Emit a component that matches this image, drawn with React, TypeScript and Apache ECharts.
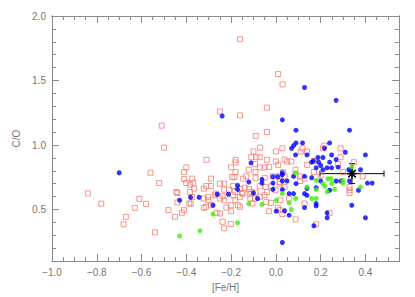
import React, { useEffect, useRef } from "react";
import * as echarts from "echarts";

const xMajor = [-1.0, -0.8, -0.6, -0.4, -0.2, 0.0, 0.2, 0.4];
const xMinor = [-0.95, -0.9, -0.85, -0.75, -0.7, -0.65, -0.55, -0.5, -0.45, -0.35, -0.3, -0.25, -0.15, -0.1, -0.05, 0.05, 0.1, 0.15, 0.25, 0.3, 0.35, 0.45, 0.5];
const yMajor = [0.5, 1.0, 1.5, 2.0];
const yMinor = [0.2, 0.3, 0.4, 0.6, 0.7, 0.8, 0.9, 1.1, 1.2, 1.3, 1.4, 1.6, 1.7, 1.8, 1.9];

// open squares
const squares: number[][] = [
  [-0.16, 1.82], [0.01, 1.55], [0.03, 1.47], [-0.25, 1.26], [-0.16, 1.23], [-0.04, 1.29], [-0.51, 1.15],
  [-0.09, 1.07], [-0.04, 1.1], [-0.5, 0.98], [-0.07, 0.98], [-0.1, 0.95], [0.0, 0.95], [-0.31, 0.885],
  [-0.18, 0.885], [-0.18, 0.865], [-0.11, 0.905], [-0.087, 0.905], [-0.072, 0.905], [-0.04, 0.885],
  [0.0, 0.872], [-0.2, 0.826], [-0.121, 0.808], [-0.093, 0.852], [-0.091, 0.79], [-0.072, 0.826],
  [-0.05, 0.826], [-0.03, 0.83], [-0.18, 0.79], [0.01, 0.846], [-0.4, 0.826], [-0.41, 0.79], [-0.56, 0.785],
  [-0.84, 0.625], [-0.78, 0.545], [-0.68, 0.385], [-0.67, 0.444], [-0.63, 0.513], [-0.61, 0.582],
  [-0.58, 0.544], [-0.521, 0.705], [-0.54, 0.323], [-0.48, 0.495], [-0.45, 0.444], [-0.44, 0.628],
  [-0.44, 0.554], [-0.42, 0.475], [-0.41, 0.495], [-0.41, 0.736], [-0.4, 0.705], [-0.444, 0.636],
  [-0.384, 0.636], [-0.374, 0.597], [-0.387, 0.546], [-0.369, 0.707], [-0.384, 0.692],
  [-0.374, 0.739], [-0.29, 0.739], [-0.195, 0.751], [-0.185, 0.751], [-0.146, 0.739], [-0.132, 0.757],
  [-0.091, 0.746], [-0.05, 0.746], [-0.013, 0.757], [0.014, 0.757], [-0.365, 0.662], [-0.322, 0.662],
  [-0.311, 0.682], [-0.29, 0.682], [-0.25, 0.7], [-0.231, 0.7], [-0.231, 0.654], [-0.209, 0.654],
  [-0.191, 0.682], [-0.181, 0.636], [-0.16, 0.659], [-0.149, 0.628], [-0.139, 0.669], [-0.12, 0.657],
  [-0.109, 0.636], [-0.09, 0.631], [-0.072, 0.68], [-0.045, 0.674], [-0.04, 0.636], [-0.02, 0.68],
  [-0.001, 0.649], [0.017, 0.713], [-0.38, 0.546], [-0.322, 0.585], [-0.322, 0.513], [-0.302, 0.572],
  [-0.29, 0.533], [-0.273, 0.61], [-0.25, 0.585], [-0.238, 0.603], [-0.23, 0.572], [-0.221, 0.515],
  [-0.201, 0.533], [-0.2, 0.487], [-0.191, 0.61], [-0.181, 0.572], [-0.17, 0.533], [-0.161, 0.598],
  [-0.161, 0.521], [-0.151, 0.623], [-0.117, 0.623], [-0.114, 0.585], [-0.105, 0.546], [-0.094, 0.585],
  [-0.072, 0.598], [-0.05, 0.61], [-0.043, 0.559], [-0.031, 0.487], [-0.022, 0.551], [0.009, 0.513],
  [0.02, 0.572], [-0.25, 0.469], [-0.238, 0.405], [-0.201, 0.387], [-0.231, 0.354],
  [0.029, 0.974], [0.119, 0.974], [0.111, 0.949], [0.139, 0.949], [0.217, 0.995], [0.21, 0.974],
  [0.289, 0.974], [0.289, 0.905], [0.039, 0.887], [0.05, 0.872], [0.069, 0.872], [0.14, 0.846],
  [0.17, 0.877], [0.278, 0.851], [0.348, 0.867], [0.088, 0.808], [0.17, 0.79], [0.299, 0.79],
  [0.032, 0.79], [0.039, 0.757], [0.088, 0.769], [0.109, 0.757], [0.128, 0.739], [0.017, 0.7],
  [0.039, 0.674], [0.109, 0.721], [0.329, 0.674], [0.329, 0.649], [0.329, 0.628], [0.059, 0.585],
  [0.128, 0.546], [0.017, 0.495], [0.029, 0.464], [0.088, 0.423], [0.24, 0.474], [0.18, 0.385],
  [0.388, 0.757], [0.2, 0.764], [-0.268, 0.623], [-0.265, 0.474], [-0.303, 0.597], [-0.313, 0.52],
];

// filled blue circles
const blue: number[][] = [
  [-0.7, 0.785], [-0.24, 1.225], [0.128, 1.446], [0.269, 1.346], [0.029, 1.195], [0.09, 1.115],
  [0.329, 1.115], [0.07, 0.974], [0.079, 0.995], [0.09, 1.016], [0.119, 1.016], [0.24, 1.016],
  [0.217, 0.974], [0.249, 0.923], [0.31, 0.944], [0.4, 0.923], [0.088, 0.923], [0.139, 0.923],
  [0.188, 0.903], [0.21, 0.903], [0.269, 0.887], [0.24, 0.867], [0.16, 0.867], [0.191, 0.867],
  [0.168, 0.877], [0.2, 0.841], [0.229, 0.823], [0.249, 0.823], [0.278, 0.828], [0.21, 0.808],
  [0.18, 0.823], [0.029, 0.785], [0.378, 0.808], [0.326, 0.808], [0.029, 0.769], [0.079, 0.757],
  [0.128, 0.757], [0.029, 0.721], [0.05, 0.721], [0.09, 0.7], [0.16, 0.746], [0.2, 0.721],
  [0.269, 0.721], [0.29, 0.721], [0.329, 0.721], [0.139, 0.662], [0.18, 0.669], [0.24, 0.649],
  [0.029, 0.654], [0.059, 0.623], [0.079, 0.623], [0.128, 0.623], [0.139, 0.61], [0.369, 0.649],
  [0.409, 0.705], [0.43, 0.705], [0.039, 0.49], [0.059, 0.456], [0.128, 0.515], [0.18, 0.546],
  [0.18, 0.528], [0.339, 0.533], [0.229, 0.474], [0.229, 0.436], [0.4, 0.436], [0.17, 0.374],
  [0.029, 0.244], [-0.43, 0.572], [-0.381, 0.595], [-0.343, 0.595], [-0.281, 0.533], [-0.262, 0.618],
  [-0.212, 0.618], [-0.171, 0.687], [-0.171, 0.656], [-0.121, 0.713], [-0.111, 0.862], [-0.1, 0.628],
  [-0.082, 0.585], [-0.062, 0.733], [-0.062, 0.705], [-0.013, 0.754], [-0.013, 0.656], [0.002, 0.487],
  [0.009, 0.754], [-0.013, 0.705],
];

// filled green circles
const green: number[][] = [
  [-0.43, 0.295], [-0.339, 0.336], [-0.281, 0.464], [-0.171, 0.398], [-0.121, 0.546], [-0.062, 0.54],
  [0.002, 0.572], [0.029, 0.623], [0.088, 0.585], [0.088, 0.785], [0.18, 0.726], [0.21, 0.7],
  [0.232, 0.739], [0.247, 0.739], [0.299, 0.726], [0.299, 0.705], [0.139, 0.674], [0.18, 0.654],
  [0.229, 0.636], [0.262, 0.657], [0.378, 0.674], [0.16, 0.585], [0.18, 0.585], [0.059, 0.551],
  [0.069, 0.5], [0.34, 0.83], [0.22, 0.68], [0.25, 0.7],
];

// reference star with error bars: [x, y, xErr, yErr]
const refStar = [[0.34, 0.778, 0.143, 0.077]];

const AXIS = "#8a8a8a";
const TEXT = "#777777";
const FONT = "Liberation Sans";

function fmt(v: number) {
  const s = Math.abs(v).toFixed(1);
  return v < -1e-9 ? "\u2212" + s : s;
}

function xAx(pos: string, vals: number[], len: number, labels: boolean, extra: any = {}) {
  return {
    type: "value",
    position: pos,
    min: -1.0,
    max: 0.55,
    axisLine: { show: true, onZero: false, lineStyle: { color: AXIS, width: 1 } },
    axisTick: { show: true, inside: true, length: len, customValues: vals, lineStyle: { color: AXIS, width: 1 } },
    axisLabel: labels
      ? { show: true, customValues: vals, formatter: fmt, color: TEXT, fontSize: 10, fontFamily: FONT, margin: 6 }
      : { show: false },
    splitLine: { show: false },
    ...extra,
  };
}

function yAx(pos: string, vals: number[], len: number, labels: boolean, extra: any = {}) {
  return {
    type: "value",
    position: pos,
    min: 0.1,
    max: 2.0,
    axisLine: { show: true, onZero: false, lineStyle: { color: AXIS, width: 1 } },
    axisTick: { show: true, inside: true, length: len, customValues: vals, lineStyle: { color: AXIS, width: 1 } },
    axisLabel: labels
      ? { show: true, customValues: vals, formatter: fmt, color: TEXT, fontSize: 10, fontFamily: FONT, margin: 6 }
      : { show: false },
    splitLine: { show: false },
    ...extra,
  };
}

export default function App() {
  const ref = useRef<HTMLDivElement>(null);
  useEffect(() => {
    if (!ref.current) return;
    const chart = echarts.init(ref.current, null, { renderer: "svg" });
    chart.setOption({
      animation: false,
      backgroundColor: "#ffffff",
      grid: { left: 52, right: 16, top: 16, bottom: 33, containLabel: false },
      xAxis: [
        xAx("bottom", xMajor, 7, true, {
          name: "[Fe/H]",
          nameLocation: "middle",
          nameGap: 19,
          nameTextStyle: { color: TEXT, fontSize: 10, fontFamily: FONT },
        }),
        xAx("bottom", xMinor, 4, false),
        xAx("top", xMajor, 7, false),
        xAx("top", xMinor, 4, false),
      ],
      yAxis: [
        yAx("left", yMajor, 7, true, {
          name: "C/O",
          nameLocation: "middle",
          nameGap: 28,
          nameRotate: 90,
          nameTextStyle: { color: TEXT, fontSize: 10, fontFamily: FONT },
        }),
        yAx("left", yMinor, 4, false),
        yAx("right", yMajor, 7, false),
        yAx("right", yMinor, 4, false),
      ],
      series: [
        {
          type: "scatter",
          xAxisIndex: 0,
          yAxisIndex: 0,
          data: squares,
          symbol: "rect",
          symbolSize: 5,
          itemStyle: { color: "rgba(0,0,0,0)", borderColor: "#f27e72", borderWidth: 1 },
        },
        {
          type: "scatter",
          xAxisIndex: 0,
          yAxisIndex: 0,
          data: blue,
          symbol: "circle",
          symbolSize: 5,
          itemStyle: { color: "#0000ff" },
        },
        {
          type: "scatter",
          xAxisIndex: 0,
          yAxisIndex: 0,
          data: green,
          symbol: "circle",
          symbolSize: 5,
          itemStyle: { color: "#3df000" },
        },
        {
          type: "custom",
          xAxisIndex: 0,
          yAxisIndex: 0,
          data: refStar,
          renderItem: (params: any, api: any) => {
            const x = api.value(0);
            const y = api.value(1);
            const ex = api.value(2);
            const ey = api.value(3);
            const c = api.coord([x, y]);
            const l = api.coord([x - ex, y]);
            const r = api.coord([x + ex, y]);
            const t = api.coord([x, y + ey]);
            const b = api.coord([x, y - ey]);
            const st = { stroke: "#000000", lineWidth: 1 };
            const cap = 3;
            const s = 5;
            const d = s * 0.75;
            const line = (x1: number, y1: number, x2: number, y2: number, w = 1) => ({
              type: "line",
              shape: { x1, y1, x2, y2 },
              style: { stroke: "#000000", lineWidth: w },
            });
            return {
              type: "group",
              children: [
                line(l[0], l[1], r[0], r[1]),
                line(l[0], l[1] - cap, l[0], l[1] + cap),
                line(r[0], r[1] - cap, r[0], r[1] + cap),
                line(t[0], t[1], b[0], b[1]),
                line(t[0] - cap, t[1], t[0] + cap, t[1]),
                line(b[0] - cap, b[1], b[0] + cap, b[1]),
                line(c[0] - s, c[1], c[0] + s, c[1], 1.5),
                line(c[0], c[1] - s, c[0], c[1] + s, 1.5),
                line(c[0] - d, c[1] - d, c[0] + d, c[1] + d, 1.5),
                line(c[0] - d, c[1] + d, c[0] + d, c[1] - d, 1.5),
                { type: "circle", shape: { cx: c[0], cy: c[1], r: 2.2 }, style: { fill: "#000000" } },
              ],
            };
          },
        },
      ],
    });
    return () => chart.dispose();
  }, []);
  return <div ref={ref} style={{ width: 415, height: 297, position: "absolute", left: 0, top: 0 }} />;
}
